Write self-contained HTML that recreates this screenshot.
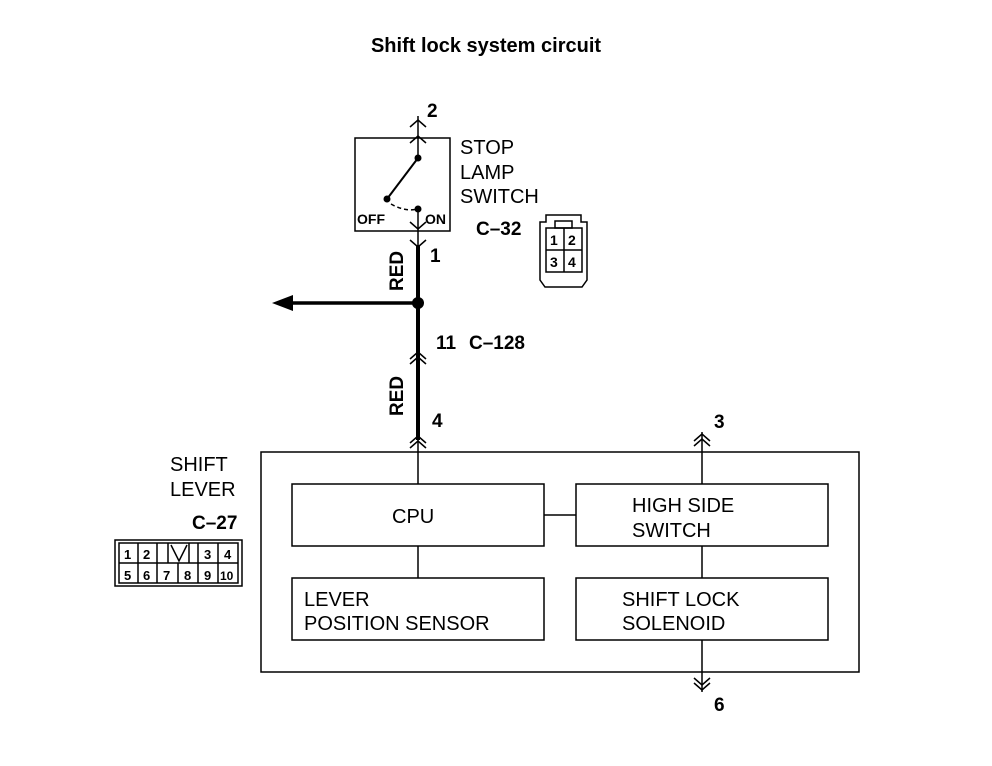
<!DOCTYPE html>
<html><head><style>body{margin:0;background:#fff}svg{display:block}text{font-family:"Liberation Sans",sans-serif}</style></head>
<body>
<svg width="992" height="766" viewBox="0 0 992 766" xmlns="http://www.w3.org/2000/svg">
<rect width="992" height="766" fill="#fff"/>
<text x="486" y="52" font-size="20" font-weight="bold" text-anchor="middle">Shift lock system circuit</text>
<g stroke="#000" fill="none" stroke-width="1.5">
<rect x="355" y="138" width="95" height="93"/>
<line x1="418" y1="116" x2="418" y2="158"/>
<polyline points="410,127 418,120 426,127"/>
<polyline points="410,143 418,136 426,143"/>
<line x1="418" y1="158" x2="387" y2="199" stroke-width="2"/>
<path d="M391,204 Q405,212 418,209" stroke-dasharray="4,3"/>
<line x1="418" y1="209" x2="418" y2="245"/>
<polyline points="410,222 418,229 426,222"/>
<polyline points="410,240 418,247 426,240"/>
<line x1="418" y1="245" x2="418" y2="440" stroke-width="4"/>
<line x1="418" y1="440" x2="418" y2="484"/>
<polyline points="410,359 418,352 426,359"/>
<polyline points="410,364 418,357 426,364"/>
<polyline points="410,443 418,436 426,443"/>
<polyline points="410,448 418,441 426,448"/>
<line x1="290" y1="303" x2="418" y2="303" stroke-width="3.5"/>
<rect x="261" y="452" width="598" height="220"/>
<rect x="292" y="484" width="252" height="62"/>
<rect x="576" y="484" width="252" height="62"/>
<rect x="292" y="578" width="252" height="62"/>
<rect x="576" y="578" width="252" height="62"/>
<line x1="544" y1="515" x2="576" y2="515"/>
<line x1="418" y1="546" x2="418" y2="578"/>
<line x1="702" y1="432" x2="702" y2="484"/>
<polyline points="694,441 702,434 710,441"/>
<polyline points="694,446 702,439 710,446"/>
<line x1="702" y1="546" x2="702" y2="578"/>
<line x1="702" y1="640" x2="702" y2="692"/>
<polyline points="694,678 702,685 710,678"/>
<polyline points="694,683 702,690 710,683"/>
<path d="M540,222 H546 V215 H581 V222 H587 V280 L582,287 H545 L540,280 Z"/>
<rect x="555" y="221" width="17" height="7"/>
<rect x="546" y="228" width="36" height="44"/>
<line x1="564" y1="228" x2="564" y2="272"/>
<line x1="546" y1="250" x2="582" y2="250"/>
<rect x="115" y="540" width="127" height="46"/>
<rect x="119" y="543" width="119" height="40"/>
<line x1="119" y1="563" x2="238" y2="563"/>
<line x1="138" y1="543" x2="138" y2="583"/>
<line x1="157" y1="543" x2="157" y2="583"/>
<line x1="178" y1="563" x2="178" y2="583"/>
<line x1="198" y1="543" x2="198" y2="583"/>
<line x1="218" y1="543" x2="218" y2="583"/>
<line x1="168" y1="543" x2="168" y2="563"/>
<line x1="189" y1="543" x2="189" y2="563"/>
<polyline points="171,545 179,561 187,545"/>
</g>
<g fill="#000">
<circle cx="418" cy="158" r="3.5"/>
<circle cx="387" cy="199" r="3.5"/>
<circle cx="418" cy="209" r="3.5"/>
<circle cx="418" cy="303" r="6"/>
<polygon points="272,303 293,295 293,311"/>
</g>
<g font-size="20">
<text x="460" y="154">STOP</text>
<text x="460" y="179">LAMP</text>
<text x="460" y="203">SWITCH</text>
<text x="170" y="471">SHIFT</text>
<text x="170" y="496">LEVER</text>
<text x="392" y="523">CPU</text>
<text x="632" y="512">HIGH SIDE</text>
<text x="632" y="537">SWITCH</text>
<text x="304" y="606">LEVER</text>
<text x="304" y="630">POSITION SENSOR</text>
<text x="622" y="606">SHIFT LOCK</text>
<text x="622" y="630">SOLENOID</text>
</g>
<g font-size="19" font-weight="bold">
<text x="427" y="117">2</text>
<text x="430" y="262">1</text>
<text x="436" y="349">11</text>
<text x="469" y="349">C–128</text>
<text x="432" y="427">4</text>
<text x="714" y="428">3</text>
<text x="714" y="711">6</text>
<text x="476" y="235">C–32</text>
<text x="192" y="529">C–27</text>
<text transform="translate(403,291) rotate(-90)">RED</text>
<text transform="translate(403,416) rotate(-90)">RED</text>
</g>
<g font-size="14" font-weight="bold">
<text x="357" y="224">OFF</text>
<text x="425" y="224">ON</text>
<text x="550" y="245">1</text>
<text x="568" y="245">2</text>
<text x="550" y="267">3</text>
<text x="568" y="267">4</text>
<text x="124" y="559" font-size="13">1</text>
<text x="143" y="559" font-size="13">2</text>
<text x="204" y="559" font-size="13">3</text>
<text x="224" y="559" font-size="13">4</text>
<text x="124" y="580" font-size="13">5</text>
<text x="143" y="580" font-size="13">6</text>
<text x="163" y="580" font-size="13">7</text>
<text x="184" y="580" font-size="13">8</text>
<text x="204" y="580" font-size="13">9</text>
<text x="220" y="580" font-size="12">10</text>
</g>
</svg>
</body></html>
